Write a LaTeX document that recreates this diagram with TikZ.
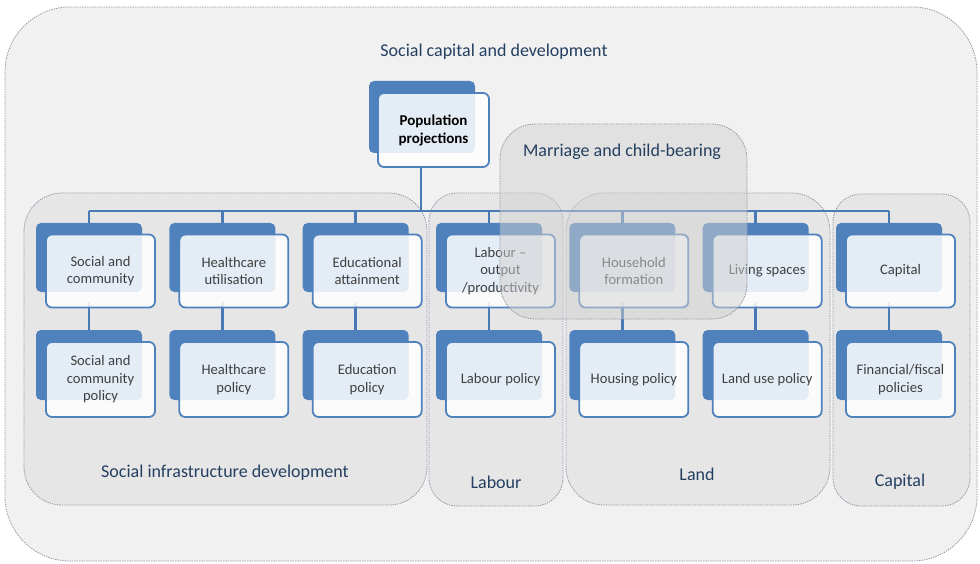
\documentclass[tikz,border=0pt]{standalone}
\usepackage{fontspec}
\setmainfont{Carlito}
\definecolor{outerfill}{HTML}{F1F1F1}
\definecolor{groupfill}{HTML}{E6E6E6}
\definecolor{dotcol}{HTML}{8A94A6}
\definecolor{accent}{HTML}{4F81BD}
\definecolor{conncol}{HTML}{4A7AB5}
\definecolor{boxtext}{HTML}{404040}
\definecolor{grouptext}{HTML}{243F60}
\definecolor{overlay}{HTML}{D2D2D2}
\tikzset{
  backcard/.style={draw=none, fill=accent, rounded corners=5pt, minimum width=106pt, minimum height=69pt, inner sep=0pt},
  frontcard/.style={draw=accent, line width=1.8pt, fill=white, fill opacity=0.85, text opacity=1, draw opacity=1, rounded corners=6pt, minimum width=109pt, minimum height=73pt, align=center, text=boxtext, font=\fontsize{14.6}{17.5}\selectfont, inner sep=0pt},
  groupbox/.style={draw=dotcol, dash pattern=on 1.3pt off 1.1pt, line width=0.8pt, fill=groupfill, rounded corners=38pt},
  grouplabel/.style={text=grouptext, font=\fontsize{18}{21}\selectfont, inner sep=0pt},
  conn/.style={draw=conncol, line width=2.6pt},
}
\begin{document}
\begin{tikzpicture}[x=1pt,y=-1pt]
\useasboundingbox (0,0) rectangle (980,564);
\fill[white] (0,0) rectangle (980,564);
% outer container
\draw[groupbox, fill=outerfill, rounded corners=65pt] (5,7) rectangle (977,561);
\node[grouplabel] (title) at (494,52) {Social capital and development};
% groups
\draw[groupbox] (24,193) rectangle (427,505);
\draw[groupbox, rounded corners=28pt] (429,193) rectangle (563,506);
\draw[groupbox] (566,193) rectangle (830,505);
\draw[groupbox, rounded corners=28pt] (833,194) rectangle (970,506);
\node[grouplabel] (lsoc) at (225,473) {Social infrastructure development};
\node[grouplabel] (llab) at (496,482) {Labour};
\node[grouplabel] (lland) at (697,474) {Land};
\node[grouplabel] (lcap) at (900,482) {Capital};
% population projections
\node[backcard, minimum width=106pt, minimum height=72pt] (pb) at (422,117) {};
\coordinate (trunk) at (421,211);
\node[frontcard, minimum width=111pt, minimum height=74pt, text=black, font=\fontsize{15}{18}\selectfont\bfseries] (pf) at (433.5,130) {Population\\projections};
% back cards
\foreach \i in {1,...,7} {
  \pgfmathsetmacro{\cx}{88+133.333*(\i-1)}
  \node[backcard] (ta\i) at ({\cx+1},257.5) {};
  \node[backcard, minimum height=70pt] (ba\i) at ({\cx+1},365) {};
}
% connectors
\draw[conn] (trunk |- pf.south) -- (trunk);
\draw[conn] (ta1.north |- trunk) -- (ta7.north |- trunk);
\foreach \i in {1,...,7} {
  \draw[conn] (ta\i.north |- trunk) -- (ta\i.north);
  \draw[conn] (ta\i.south) ++(0,10) -- (ba\i.north);
}
% front cards
\foreach \i/\ta/\tb in {1/{Social and\\community}/{Social and\\community\\policy},
                        2/{Healthcare\\utilisation}/{Healthcare\\policy},
                        3/{Educational\\attainment}/{Education\\policy},
                        4/{Labour --\\output\\/productivity}/{Labour policy},
                        5/{Household\\formation}/{Housing policy},
                        6/{Living spaces}/{Land use policy},
                        7/{Capital}/{Financial/fiscal\\policies}} {
  \pgfmathsetmacro{\cx}{88+133.333*(\i-1)}
  \node[frontcard] (tf\i) at ({\cx+12.5},271) {\ta};
  \node[frontcard, minimum height=75pt] (bf\i) at ({\cx+12.5},379.5) {\tb};
}
% marriage overlay
\draw[groupbox, fill=overlay, fill opacity=0.5, rounded corners=35pt] (500,124) rectangle (747,319);
\node[grouplabel] (lmar) at (622,152) {Marriage and child-bearing};
\end{tikzpicture}
\end{document}
